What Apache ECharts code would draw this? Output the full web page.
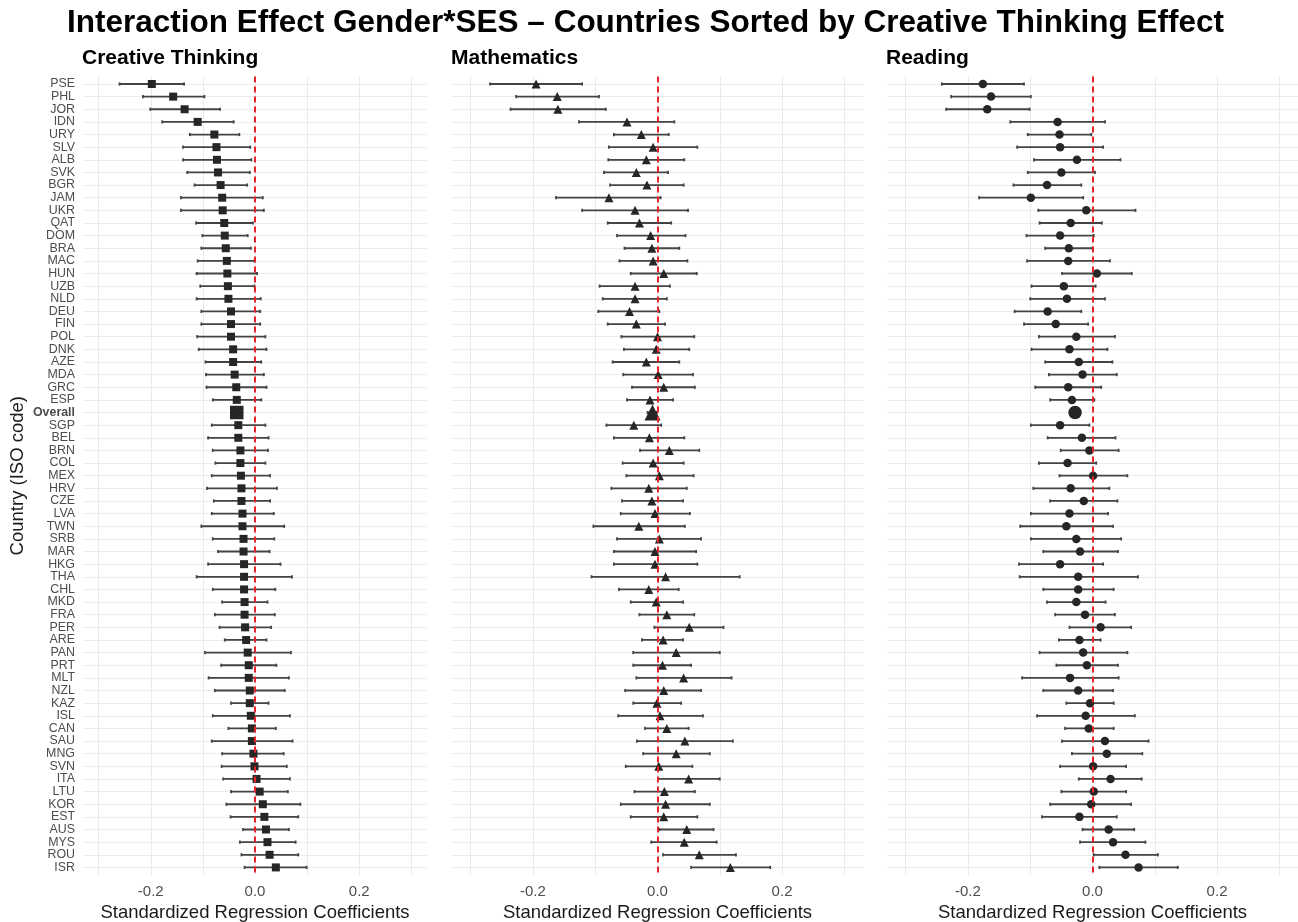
<!DOCTYPE html>
<html><head><meta charset="utf-8">
<script src="https://cdn.jsdelivr.net/npm/echarts@6/dist/echarts.min.js"></script>
<style>html,body{margin:0;padding:0;background:#fff}#c{width:1298px;height:922px}</style>
</head><body><div id="c"></div>
<script>
const countries = ['PSE','PHL','JOR','IDN','URY','SLV','ALB','SVK','BGR','JAM','UKR','QAT','DOM','BRA','MAC','HUN','UZB','NLD','DEU','FIN','POL','DNK','AZE','MDA','GRC','ESP','Overall','SGP','BEL','BRN','COL','MEX','HRV','CZE','LVA','TWN','SRB','MAR','HKG','THA','CHL','MKD','FRA','PER','ARE','PAN','PRT','MLT','NZL','KAZ','ISL','CAN','SAU','MNG','SVN','ITA','LTU','KOR','EST','AUS','MYS','ROU','ISR'];

const ctEst = [-0.198,-0.157,-0.135,-0.110,-0.078,-0.074,-0.073,-0.071,-0.066,-0.063,-0.062,-0.059,-0.058,-0.056,-0.054,-0.053,-0.052,-0.051,-0.046,-0.046,-0.046,-0.042,-0.042,-0.039,-0.036,-0.035,-0.035,-0.032,-0.032,-0.028,-0.028,-0.027,-0.026,-0.026,-0.024,-0.024,-0.022,-0.022,-0.021,-0.021,-0.021,-0.020,-0.020,-0.019,-0.017,-0.014,-0.012,-0.012,-0.010,-0.010,-0.008,-0.006,-0.006,-0.003,-0.001,0.003,0.009,0.015,0.018,0.021,0.024,0.028,0.040];
const ctLo = [-0.260,-0.215,-0.201,-0.178,-0.125,-0.138,-0.138,-0.130,-0.116,-0.142,-0.142,-0.113,-0.101,-0.103,-0.110,-0.112,-0.105,-0.112,-0.103,-0.103,-0.111,-0.108,-0.095,-0.094,-0.093,-0.081,-0.041,-0.083,-0.090,-0.081,-0.076,-0.083,-0.092,-0.079,-0.083,-0.103,-0.081,-0.071,-0.090,-0.112,-0.081,-0.063,-0.077,-0.068,-0.058,-0.096,-0.065,-0.089,-0.077,-0.046,-0.081,-0.051,-0.083,-0.063,-0.064,-0.061,-0.046,-0.055,-0.047,-0.023,-0.029,-0.026,-0.020];
const ctHi = [-0.136,-0.097,-0.067,-0.041,-0.030,-0.009,-0.007,-0.010,-0.015,0.015,0.017,-0.004,-0.014,-0.008,-0.001,0.004,-0.001,0.011,0.010,0.010,0.020,0.022,0.012,0.017,0.022,0.012,-0.029,0.020,0.026,0.025,0.020,0.029,0.042,0.029,0.036,0.056,0.037,0.028,0.049,0.071,0.039,0.024,0.038,0.031,0.022,0.069,0.041,0.065,0.057,0.026,0.067,0.040,0.072,0.055,0.061,0.067,0.063,0.087,0.083,0.065,0.078,0.083,0.099];

const mathEst = [-0.195,-0.161,-0.160,-0.049,-0.026,-0.007,-0.018,-0.034,-0.017,-0.078,-0.036,-0.029,-0.011,-0.009,-0.007,0.010,-0.036,-0.036,-0.045,-0.034,0.000,-0.002,-0.018,0.001,0.010,-0.012,-0.008,-0.038,-0.013,0.019,-0.007,0.003,-0.014,-0.009,-0.004,-0.030,0.003,-0.004,-0.004,0.013,-0.014,-0.002,0.015,0.051,0.009,0.030,0.008,0.042,0.010,-0.001,0.004,0.015,0.044,0.030,0.002,0.050,0.011,0.013,0.010,0.047,0.043,0.067,0.117];
const mathLo = [-0.269,-0.227,-0.236,-0.126,-0.070,-0.078,-0.079,-0.086,-0.076,-0.163,-0.121,-0.080,-0.065,-0.053,-0.061,-0.043,-0.093,-0.088,-0.095,-0.080,-0.058,-0.054,-0.072,-0.055,-0.041,-0.049,-0.016,-0.082,-0.070,-0.028,-0.056,-0.050,-0.074,-0.057,-0.059,-0.103,-0.065,-0.070,-0.070,-0.106,-0.062,-0.043,-0.029,-0.005,-0.025,-0.039,-0.039,-0.034,-0.052,-0.039,-0.063,-0.020,-0.033,-0.023,-0.051,0.001,-0.037,-0.059,-0.043,0.003,-0.010,0.009,0.054];
const mathHi = [-0.121,-0.094,-0.083,0.027,0.018,0.064,0.043,0.017,0.042,0.005,0.049,0.022,0.045,0.035,0.048,0.063,0.020,0.015,0.003,0.012,0.059,0.051,0.035,0.057,0.060,0.025,-0.001,0.006,0.043,0.067,0.042,0.058,0.047,0.041,0.052,0.044,0.070,0.062,0.064,0.132,0.034,0.041,0.059,0.106,0.041,0.100,0.054,0.119,0.070,0.038,0.073,0.050,0.121,0.084,0.056,0.100,0.060,0.084,0.064,0.090,0.095,0.126,0.181];

const readEst = [-0.176,-0.163,-0.169,-0.056,-0.053,-0.052,-0.025,-0.050,-0.073,-0.099,-0.010,-0.035,-0.052,-0.038,-0.039,0.007,-0.046,-0.041,-0.072,-0.059,-0.026,-0.037,-0.022,-0.016,-0.039,-0.033,-0.028,-0.052,-0.017,-0.005,-0.040,0.001,-0.035,-0.014,-0.037,-0.042,-0.026,-0.020,-0.052,-0.023,-0.023,-0.026,-0.012,0.013,-0.021,-0.015,-0.009,-0.036,-0.023,-0.004,-0.011,-0.006,0.020,0.023,0.001,0.029,0.002,-0.002,-0.021,0.026,0.033,0.053,0.074];
const readLo = [-0.242,-0.227,-0.235,-0.132,-0.104,-0.121,-0.094,-0.104,-0.127,-0.182,-0.087,-0.085,-0.106,-0.076,-0.105,-0.049,-0.098,-0.100,-0.125,-0.110,-0.086,-0.098,-0.076,-0.070,-0.092,-0.068,-0.035,-0.099,-0.072,-0.051,-0.086,-0.053,-0.095,-0.068,-0.099,-0.116,-0.099,-0.079,-0.118,-0.117,-0.079,-0.073,-0.060,-0.037,-0.054,-0.085,-0.058,-0.113,-0.079,-0.042,-0.089,-0.044,-0.049,-0.033,-0.052,-0.022,-0.050,-0.068,-0.081,-0.016,-0.020,0.002,0.011];
const readHi = [-0.110,-0.099,-0.101,0.020,-0.002,0.017,0.045,0.004,-0.018,-0.015,0.069,0.015,0.002,0.000,0.028,0.063,0.005,0.020,-0.018,-0.007,0.036,0.024,0.032,0.039,0.014,0.003,-0.021,-0.005,0.037,0.042,0.006,0.056,0.027,0.040,0.025,0.033,0.046,0.041,0.017,0.073,0.034,0.021,0.036,0.062,0.013,0.056,0.041,0.042,0.033,0.034,0.068,0.034,0.090,0.080,0.054,0.079,0.054,0.062,0.039,0.067,0.085,0.105,0.137];

const panelTitles = ['Creative Thinking','Mathematics','Reading'];
const mainTitle = 'Interaction Effect Gender*SES \u2013 Countries Sorted by Creative Thinking Effect';
const xTickValues = [-0.3,-0.2,-0.1,0,0.1,0.2,0.3];
const xLabelValues = [-0.2,0,0.2];
const xName = 'Standardized Regression Coefficients';
const yName = 'Country (ISO code)';

const FONT = "'Liberation Sans', Arial, Helvetica, sans-serif";
const rowIdx = countries.map((c, i) => i);
const overallIdx = countries.indexOf('Overall');

const panels = [
  {est: ctEst, lo: ctLo, hi: ctHi, symbol: 'rect', size: 8, bigSize: 13.5},
  {est: mathEst, lo: mathLo, hi: mathHi, symbol: 'triangle', size: 9, bigSize: 16},
  {est: readEst, lo: readLo, hi: readHi, symbol: 'circle', size: 8.5, bigSize: 13.5}
];
const gridPos = [{left: 83, width: 344}, {left: 452, width: 411}, {left: 887, width: 411}];
const TOP = 76.4, HEIGHT = 798.6;

function renderBar(params, api) {
  const y = api.value(2);
  const a = api.coord([api.value(0), y]);
  const b = api.coord([api.value(1), y]);
  const st = {stroke: '#444444', lineWidth: 1.8};
  const h = 1.6;
  return {type: 'group', children: [
    {type: 'line', shape: {x1: a[0], y1: a[1], x2: b[0], y2: b[1]}, style: st},
    {type: 'line', shape: {x1: a[0], y1: a[1] - h, x2: a[0], y2: a[1] + h}, style: st},
    {type: 'line', shape: {x1: b[0], y1: b[1] - h, x2: b[0], y2: b[1] + h}, style: st}
  ]};
}

const option = {
  backgroundColor: '#ffffff',
  animation: false,
  title: [
    {text: mainTitle, left: 67, top: 7, padding: 0,
     textStyle: {fontFamily: FONT, fontSize: 31.5, fontWeight: 'bold', color: '#000'}}
  ].concat(panelTitles.map((t, i) => ({
    text: t, left: gridPos[i].left - 1, top: 48, padding: 0,
    textStyle: {fontFamily: FONT, fontSize: 21, fontWeight: 'bold', color: '#000'}
  }))),
  grid: gridPos.map(g => ({left: g.left, width: g.width, top: TOP, height: HEIGHT,
    containLabel: false, outerBoundsMode: 'none'})),
  xAxis: [],
  yAxis: [],
  series: []
};

panels.forEach((p, i) => {
  option.xAxis.push({
    type: 'value', gridIndex: i, min: -0.33, max: 0.33,
    name: xName, nameLocation: 'middle', nameGap: 23,
    nameTextStyle: {fontFamily: FONT, fontSize: 18.5, color: '#1a1a1a'},
    axisLine: {show: false}, axisTick: {show: false, customValues: xTickValues},
    axisLabel: {customValues: xLabelValues, formatter: v => (Math.abs(v) < 1e-9 ? 0 : v).toFixed(1),
      fontFamily: FONT, fontSize: 15, color: '#4d4d4d', margin: 9},
    splitLine: {show: true, lineStyle: {color: '#eaeaee', width: 1}}
  });
  option.yAxis.push({
    type: 'value', gridIndex: i, min: -0.6, max: 62.6, inverse: true,
    name: i === 0 ? yName : '', nameLocation: 'middle', nameGap: 56, nameRotate: 90,
    nameTextStyle: {fontFamily: FONT, fontSize: 18.5, color: '#1a1a1a'},
    axisLine: {show: false}, axisTick: {show: false, customValues: rowIdx},
    axisLabel: {show: i === 0, customValues: rowIdx, margin: 8,
      fontFamily: FONT, fontSize: 12.4, color: '#4d4d4d',
      formatter: v => v === overallIdx ? '{b|' + countries[v] + '}' : countries[v],
      rich: {b: {fontFamily: FONT, fontSize: 12.4, fontWeight: 'bold', color: '#4d4d4d'}}},
    splitLine: {show: true, lineStyle: {color: '#ececf0', width: 1.2}}
  });
  option.series.push({
    type: 'custom', xAxisIndex: i, yAxisIndex: i,
    renderItem: renderBar, encode: {x: [0, 1], y: 2},
    data: rowIdx.map(k => [p.lo[k], p.hi[k], k]), z: 2
  });
  option.series.push({
    type: 'scatter', xAxisIndex: i, yAxisIndex: i,
    symbol: p.symbol,
    symbolSize: (val, params) => params.dataIndex === overallIdx ? p.bigSize : p.size,
    itemStyle: {color: '#262626', opacity: 1},
    data: rowIdx.map(k => [p.est[k], k]), z: 3,
    markLine: {
      silent: true, symbol: 'none', label: {show: false}, z: 5,
      lineStyle: {color: '#e8232a', type: [6, 4], width: 2},
      data: [{xAxis: 0}]
    }
  });
});

const chart = echarts.init(document.getElementById('c'), null, {renderer: 'canvas'});
chart.setOption(option);
</script>
</body></html>
